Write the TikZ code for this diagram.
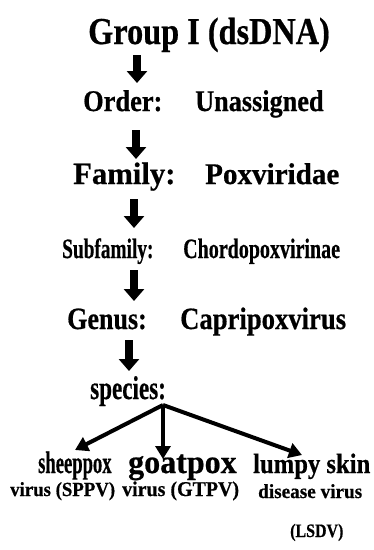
\documentclass[tikz,border=0pt]{standalone}
\usepackage{fontspec}
\setmainfont{Liberation Serif}[BoldFeatures={FakeBold=0.6}]
\usetikzlibrary{arrows.meta}
\newcommand{\fs}[1]{\fontsize{#1}{#1}\selectfont}
\begin{document}
\begin{tikzpicture}[x=1pt,y=-1pt,
  lbl/.style={anchor=base west,inner sep=0pt,font=\bfseries},
  downarrow/.style={line width=7.5pt,-{Triangle[width=20pt,length=12pt]}},
  splitarrow/.style={line width=4pt,-{Triangle[width=15pt,length=13pt]}}]
\useasboundingbox (0,0) rectangle (373,550);
\node[lbl,font=\bfseries\fs{38}] (group) at (88,44) {\scalebox{0.85}[1]{Group I (dsDNA)}};
\node[lbl,font=\bfseries\fs{30}] (order) at (83,111) {\scalebox{0.88}[1]{Order:}};
\node[lbl,font=\bfseries\fs{30}] (unass) at (195,111) {\scalebox{0.875}[1]{Unassigned}};
\node[lbl,font=\bfseries\fs{31}] (family) at (73,184) {\scalebox{0.99}[1]{Family:}};
\node[lbl,font=\bfseries\fs{30}] (pox) at (205,184) {\scalebox{0.97}[1]{Poxviridae}};
\node[lbl,font=\bfseries\fs{28}] (subfam) at (62,258) {\scalebox{0.69}[1]{Subfamily:}};
\node[lbl,font=\bfseries\fs{28}] (chordo) at (183,258) {\scalebox{0.715}[1]{Chordopoxvirinae}};
\node[lbl,font=\bfseries\fs{31}] (genus) at (67,329) {\scalebox{0.84}[1]{Genus:}};
\node[lbl,font=\bfseries\fs{31}] (capri) at (180,329) {\scalebox{0.86}[1]{Capripoxvirus}};
\node[lbl,font=\bfseries\fs{33}] (species) at (90,399) {\scalebox{0.70}[1]{species:}};
\node[lbl,font=\bfseries\fs{31}] (sheep) at (38,473) {\scalebox{0.60}[1]{sheeppox}};
\node[lbl,font=\bfseries\fs{33}] (goat) at (128,473) {\scalebox{0.97}[1]{goatpox}};
\node[lbl,font=\bfseries\fs{28}] (lumpy) at (253,473) {\scalebox{0.88}[1]{lumpy skin}};
\node[lbl,font=\bfseries\fs{20}] (sppv) at (10,496) {\scalebox{0.94}[1]{virus (SPPV)}};
\node[lbl,font=\bfseries\fs{21}] (gtpv) at (122,496) {\scalebox{0.95}[1]{virus (GTPV)}};
\node[lbl,font=\bfseries\fs{20}] (disease) at (258,498) {\scalebox{0.96}[1]{disease virus}};
\node[lbl,font=\bfseries\fs{19}] (lsdv) at (290,537) {\scalebox{0.84}[1]{(LSDV)}};
\coordinate (a1s) at (137,55);  \coordinate (a1e) at (137,83);
\coordinate (a2s) at (136,130); \coordinate (a2e) at (136,159);
\coordinate (a3s) at (134,199); \coordinate (a3e) at (134,228);
\coordinate (a4s) at (134,270); \coordinate (a4e) at (134,301);
\coordinate (a5s) at (129,340); \coordinate (a5e) at (129,371);
\coordinate (apex) at (163,405);
\coordinate (tl) at (75,450);
\coordinate (tm) at (163,459);
\coordinate (tr) at (302,455);
\draw[downarrow] (a1s) -- (a1e);
\draw[downarrow] (a2s) -- (a2e);
\draw[downarrow] (a3s) -- (a3e);
\draw[downarrow] (a4s) -- (a4e);
\draw[downarrow] (a5s) -- (a5e);
\draw[splitarrow] (apex) -- (tl);
\draw[splitarrow] (apex) -- (tm);
\draw[splitarrow] (apex) -- (tr);
\end{tikzpicture}
\end{document}
